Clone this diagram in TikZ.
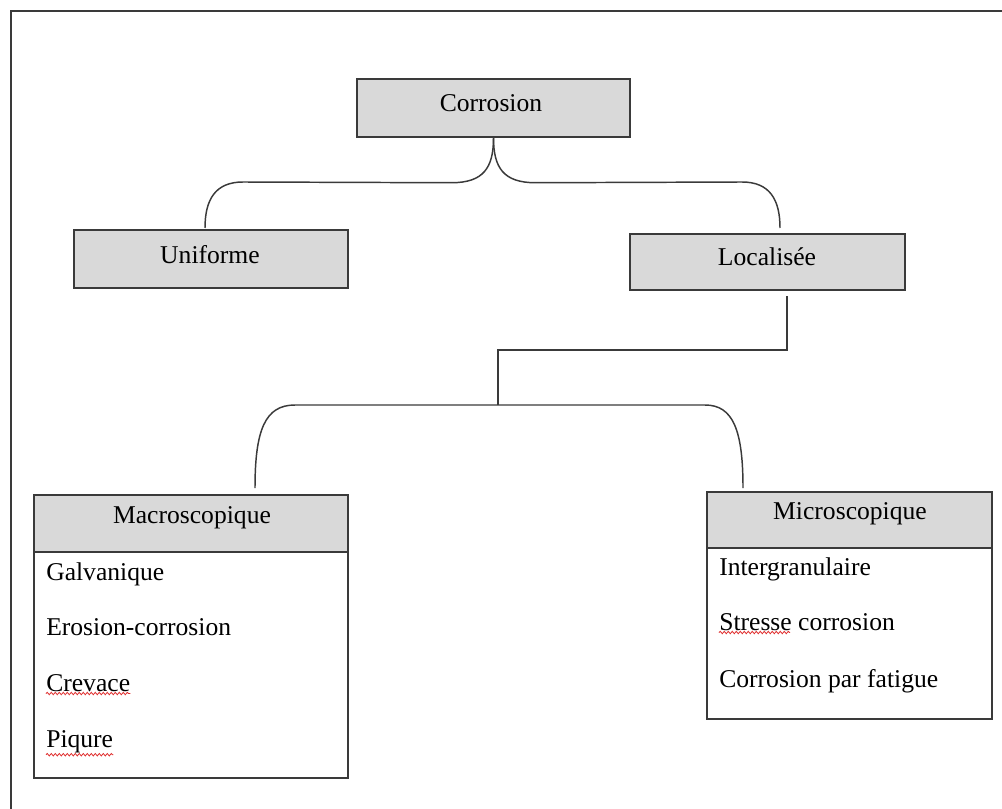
\documentclass[tikz,border=0pt]{standalone}
\usepackage{fontspec}
\setmainfont{Liberation Serif}
\usetikzlibrary{fit,calc,decorations.pathmorphing}
\definecolor{boxfill}{HTML}{D9D9D9}
\definecolor{linegray}{HTML}{3A3A3A}
\definecolor{spellred}{HTML}{E03030}
\tikzset{
  box/.style={draw=linegray, line width=1.1pt, fill=boxfill, inner sep=0pt},
  plainbox/.style={draw=linegray, line width=1.1pt, fill=white, inner sep=0pt},
  txt/.style={inner sep=0pt, anchor=base, font=\fontsize{19.2}{23}\selectfont},
  item/.style={inner sep=0pt, anchor=base west, font=\fontsize{19.2}{23}\selectfont},
  conn/.style={draw=linegray, line width=1.1pt},
  squiggle/.style={draw=spellred, line width=0.6pt, decorate,
    decoration={snake, amplitude=0.9pt, segment length=3pt}}
}
\begin{document}
\begin{tikzpicture}[x=0.75pt, y=-0.75pt]
\useasboundingbox (0,0) rectangle (1002,809);
% outer frame (only left and top edges visible)
\draw[draw=linegray, line width=1.5pt] (11,809) -- (11,11) -- (1002,11);

% top level boxes
\node[box, fit={(357,79) (630,137)}] (corr) {};
\node[txt] (corrT) at (491,112) {Corrosion};
\node[box, fit={(74,230) (348,288)}] (unif) {};
\node[txt] (unifT) at (210,263) {Uniforme};
\node[box, fit={(630,234) (905,290)}] (loc) {};
\node[txt] (locT) at (767,266) {Localisée};

% Macroscopique
\node[plainbox, fit={(34,495) (348,778)}] (macro) {};
\node[box, fit={(34,495) (348,552)}] (macroH) {};
\node[txt] (macroT) at (192,523) {Macroscopique};
\node[item] (galv) at (46,580) {Galvanique};
\node[item] (eros) at (46,635) {Erosion-corrosion};
\node[item] (crev) at (46,691) {Crevace};
\node[item] (piq) at (46,747) {Piqure};

% Microscopique
\node[plainbox, fit={(707,492) (992,719)}] (micro) {};
\node[box, fit={(707,492) (992,548)}] (microH) {};
\node[txt] (microT) at (850,519) {Microscopique};
\node[item] (inter) at (719,575) {Intergranulaire};
\node[item] (stress) at (719,630) {Stresse corrosion};
\node[item] (fatig) at (719,687) {Corrosion par fatigue};

% spell-check squiggles
\draw[squiggle] ($(crev.south west)+(0,2)$) -- ($(crev.south east)+(0,2)$);
\draw[squiggle] ($(piq.south west)+(0,2)$) -- ($(piq.south east)+(0,2)$);
\draw[squiggle] ($(stress.south west)+(0,2)$) -- ($(stress.south west)+(71,2)$);

% brace end points
\coordinate (bU) at (205,228);
\coordinate (bL) at (780,228);
\coordinate (bMa) at (255,488);
\coordinate (bMi) at (743,488);
\coordinate (locS) at (787,296);

% top brace
\draw[conn] (corr.south) .. controls ($(corr.south)+(0,30)$) and ($(corr.south)+(-10,45)$) .. ($(corr.south)+(-42,45)$)
  -- (243,182) .. controls (215,182) and (205,200) .. (bU);
\draw[conn] (corr.south) .. controls ($(corr.south)+(0,30)$) and ($(corr.south)+(10,45)$) .. ($(corr.south)+(42,45)$)
  -- (742,182) .. controls (770,182) and (780,200) .. (bL);

% Localisee connector
\draw[conn] (locS) -- (787,350) -- (498,350) -- (498,405);

% lower brace
\draw[conn] (bMa) .. controls (255,430) and (265,405) .. (295,405) -- (705,405)
  .. controls (733,405) and (743,430) .. (bMi);
\end{tikzpicture}
\end{document}
